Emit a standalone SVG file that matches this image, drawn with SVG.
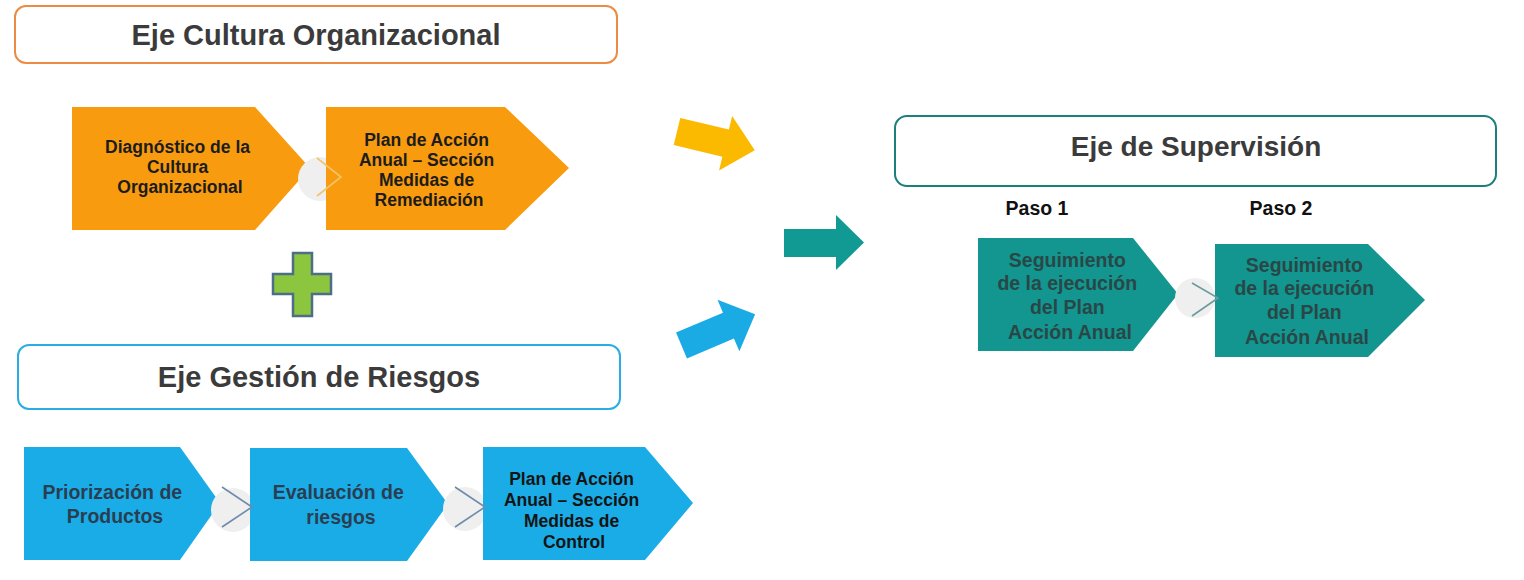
<svg xmlns="http://www.w3.org/2000/svg" width="1524" height="580" viewBox="0 0 1524 580">
<style>
  .hdr { fill:#ffffff; stroke-width:2; }
  .hdrtxt { font-family:"Liberation Sans", Arial, sans-serif; font-weight:bold; font-size:29px; fill:#3b3b3b; text-anchor:middle; }
  .lbl { font-family:"Liberation Sans", Arial, sans-serif; font-weight:bold; text-anchor:middle; }
  .org { fill:#F89B0E; }
  .blu { fill:#1AACE6; }
  .tea { fill:#12968F; }
  .circ { fill:#EFEFF0; }
  .chev { fill:none; stroke-width:1.6; }
</style>
<rect width="1524" height="580" fill="#ffffff"/>

<g id="hdr-cultura">
  <rect class="hdr" x="15" y="6" width="602" height="57" rx="11" stroke="#EC8B43"/>
  <text class="hdrtxt" x="316" y="45">Eje Cultura Organizacional</text>
</g>

<g id="hdr-riesgos">
  <rect class="hdr" x="18" y="345" width="602" height="64" rx="11" stroke="#2AADE3"/>
  <text class="hdrtxt" x="319" y="387">Eje Gestión de Riesgos</text>
</g>

<g id="hdr-supervision">
  <rect class="hdr" x="895" y="116" width="601" height="70" rx="12" stroke="#1B7F7C"/>
  <text class="hdrtxt" x="1196" y="156" style="font-size:28px">Eje de Supervisión</text>
</g>

<g id="plus">
  <polygon points="293,253 312,253 312,274 331,274 331,294 312,294 312,316 293,316 293,294 273,294 273,274 293,274" fill="#8CC63F" stroke="#4E6D86" stroke-width="2.5"/>
</g>

<g id="orange-1">
  <polygon class="org" points="72,107 255,107 310,168 255,230 72,230"/>
  <text class="lbl" style="font-size:17.5px" fill="#1c1c1c">
    <tspan x="180" y="153">Diagnóstico de la</tspan>
    <tspan x="180" y="173">Cultura</tspan>
    <tspan x="180" y="193">Organizacional</tspan>
  </text>
</g>
<circle class="circ" cx="320" cy="179" r="22"/>
<g id="orange-2">
  <polygon class="org" points="326,107 505,107 569,168 505,230 326,230"/>
  <text class="lbl" style="font-size:17.5px" fill="#1c1c1c">
    <tspan x="429" y="146">Plan de Acción</tspan>
    <tspan x="429" y="166">Anual – Sección</tspan>
    <tspan x="429" y="186">Medidas de</tspan>
    <tspan x="429" y="206">Remediación</tspan>
  </text>
</g>

<g id="blue-1">
  <polygon class="blu" points="24,447 180,447 220,503 180,560 24,560"/>
  <text class="lbl" style="font-size:19.5px" fill="#2A3E52">
    <tspan x="115" y="499">Priorización de</tspan>
    <tspan x="115" y="523">Productos</tspan>
  </text>
</g>
<circle class="circ" cx="233" cy="510" r="22"/>
<g id="blue-2">
  <polygon class="blu" points="250,448 407,448 448,504 407,561 250,561"/>
  <text class="lbl" style="font-size:19.5px" fill="#2A3E52">
    <tspan x="341" y="499">Evaluación de</tspan>
    <tspan x="341" y="524">riesgos</tspan>
  </text>
</g>
<circle class="circ" cx="465" cy="509" r="22"/>
<g id="blue-3">
  <polygon class="blu" points="483,447 645,447 693,503 645,560 483,560"/>
  <text class="lbl" style="font-size:17.5px" fill="#141414">
    <tspan x="574" y="485">Plan de Acción</tspan>
    <tspan x="574" y="506">Anual – Sección</tspan>
    <tspan x="574" y="527">Medidas de</tspan>
    <tspan x="574" y="548">Control</tspan>
  </text>
</g>

<g id="paso-labels">
  <text class="lbl" style="font-size:19.5px" fill="#111111" x="1037" y="215">Paso 1</text>
  <text class="lbl" style="font-size:19.5px" fill="#111111" x="1281" y="215">Paso 2</text>
</g>

<g id="teal-1">
  <polygon class="tea" points="978,238 1133,238 1178,294 1133,351 978,351"/>
  <text class="lbl" style="font-size:19.5px" fill="#2A4747">
    <tspan x="1070" y="267">Seguimiento</tspan>
    <tspan x="1070" y="290">de la ejecución</tspan>
    <tspan x="1070" y="314">del Plan</tspan>
    <tspan x="1070" y="339">Acción Anual</tspan>
  </text>
</g>
<circle class="circ" cx="1195" cy="298" r="20"/>
<g id="teal-2">
  <polygon class="tea" points="1215,244 1368,244 1425,300 1368,357 1215,357"/>
  <text class="lbl" style="font-size:19.5px" fill="#2A4747">
    <tspan x="1307" y="272">Seguimiento</tspan>
    <tspan x="1307" y="295">de la ejecución</tspan>
    <tspan x="1307" y="319">del Plan</tspan>
    <tspan x="1307" y="344">Acción Anual</tspan>
  </text>
</g>

<g id="connectors">
  <polyline class="chev" stroke="#F3C46E" points="317,158 341,177 317,196"/>
  <polyline class="chev" stroke="#6F8BAA" points="222,487 252,507 222,527"/>
  <polyline class="chev" stroke="#6F8BAA" points="455,487 485,507 455,527"/>
  <polyline class="chev" stroke="#6A9C9A" points="1192,283 1218,298 1192,316"/>
  <polygon fill="#FBBA00" points="0,-14 50,-14 50,-28 80,0 50,28 50,14 0,14" transform="translate(677,131.5) rotate(13.5)"/>
  <polygon fill="#119A94" points="784,229 836,229 836,215 864,242.5 836,270 836,257 784,257"/>
  <polygon fill="#1AABE5" points="0,-14 51,-14 51,-28 80,0 51,28 51,14 0,14" transform="translate(681.5,345.5) rotate(-23)"/>
</g>
</svg>
